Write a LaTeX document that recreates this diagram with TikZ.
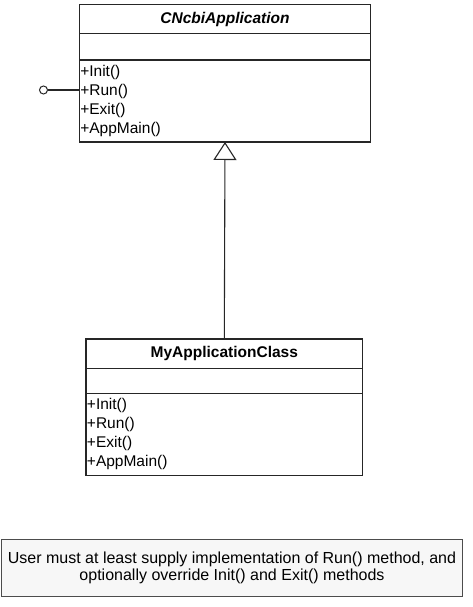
\documentclass[tikz,border=0pt]{standalone}
\usepackage{fontspec}
\setmainfont{Liberation Sans}
\usetikzlibrary{positioning,arrows.meta}

\begin{document}
\begin{tikzpicture}[x=1pt,y=-1pt,
    every node/.style={outer sep=0pt, font=\fontsize{15.5}{19}\selectfont},
    compart/.style={draw=black!85, line width=1.1pt, inner sep=1pt},
    ops/.style={compart, align=left, minimum height=82pt},
    note/.style={draw=black!70, line width=1.1pt, fill=black!3, align=center,
      font=\fontsize{16}{16.6}\selectfont,
      minimum width=461.7pt, minimum height=56.7pt}]
  \useasboundingbox (0,0) rectangle (473,607);

  % base class
  \node[compart, minimum width=291.4pt, minimum height=28.6pt] (base) at (225,19) {\bfseries\itshape CNcbiApplication};
  \node[compart, minimum width=291.4pt, minimum height=26.7pt, below=0pt of base] (baseattr) {};
  \node[ops, minimum width=291.4pt, text width=289.4pt, below=0pt of baseattr] (baseops) {+Init()\\+Run()\\+Exit()\\+AppMain()};

  % derived class
  \node[compart, minimum width=276.7pt, minimum height=29.3pt] (derived) at (224.3,353.6) {\bfseries MyApplicationClass};
  \node[compart, minimum width=276.7pt, minimum height=25pt, below=0pt of derived] (derivedattr) {};
  \node[ops, minimum width=276.7pt, text width=274.7pt, below=0pt of derivedattr] (derivedops) {+Init()\\+Run()\\+Exit()\\+AppMain()};

  % interface port on Run()
  \node[circle, draw=black!85, line width=1pt, minimum size=8pt, inner sep=0pt] (port) at (43.5,90) {};
  \coordinate (runport) at (baseops.west |- port);
  \draw[black!85, line width=1.1pt] (port) -- (runport);

  % generalization
  \draw[black!85, line width=1.1pt, -{Triangle[open, width=23pt, length=18pt]}] (derived.north) -- (base.north |- baseops.south);

  % note
  \node[note] (remark) at (232,567.7) {User must at least supply implementation of Run() method, and\\optionally override Init() and Exit() methods};
\end{tikzpicture}
\end{document}
